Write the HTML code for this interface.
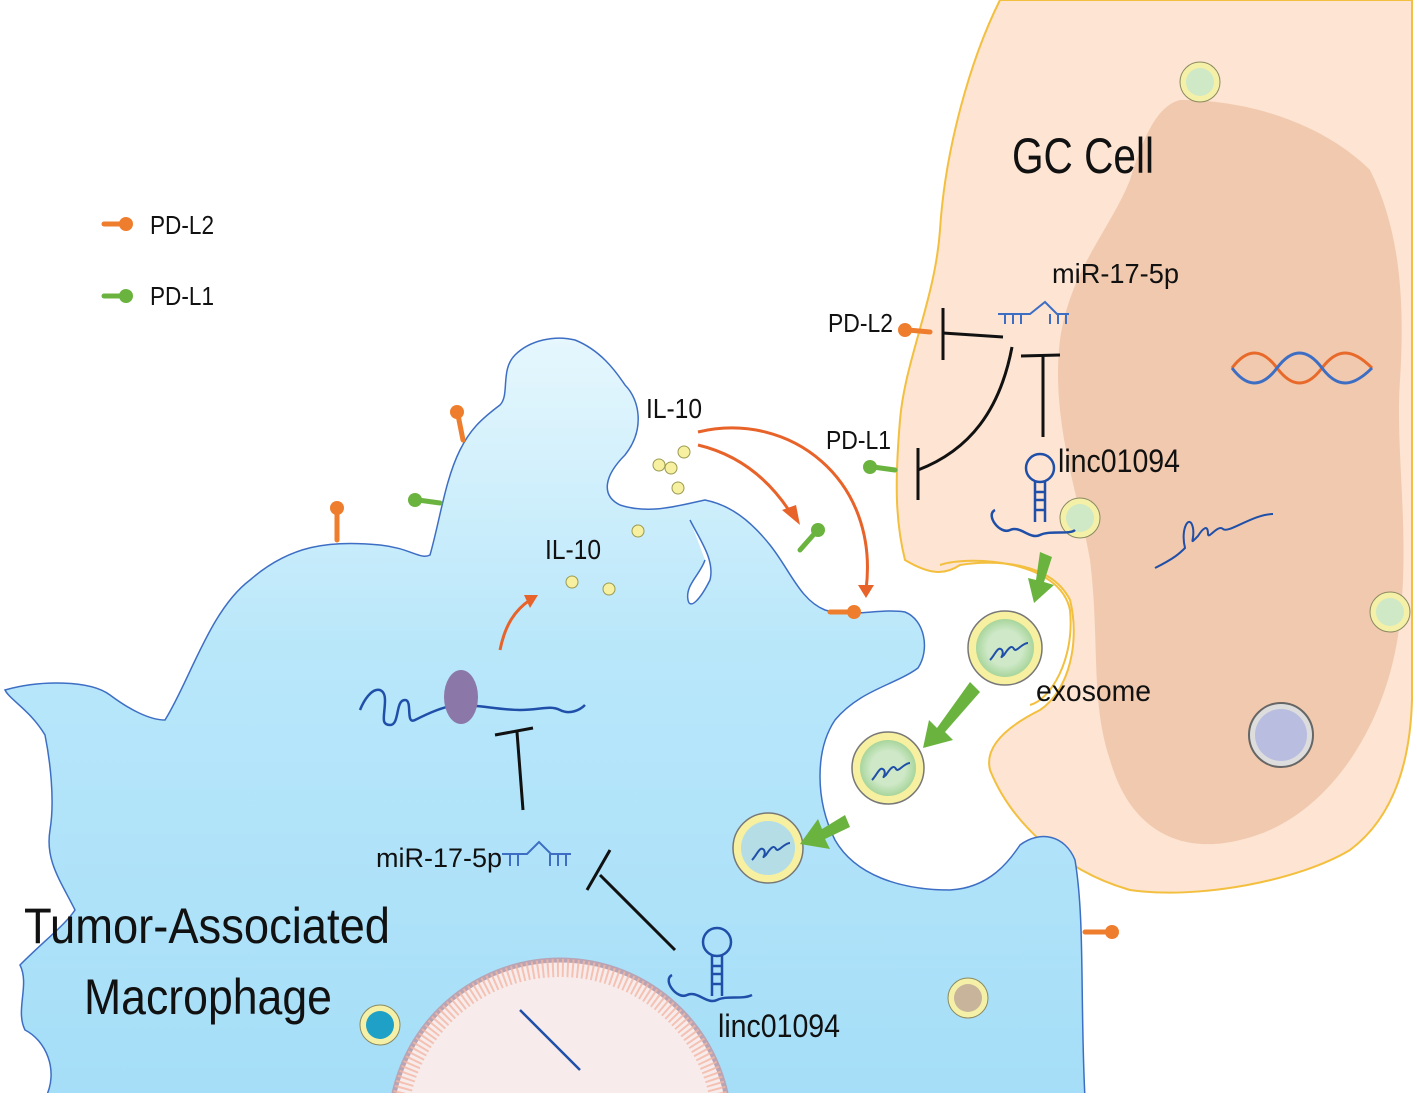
<!DOCTYPE html>
<html><head><meta charset="utf-8"><style>
html,body{margin:0;padding:0;background:#fff;overflow:hidden;width:1417px;height:1099px;}
svg{display:block;}
text{font-family:"Liberation Sans",sans-serif;fill:#111;}
</style></head><body>
<svg width="1417" height="1099" viewBox="0 0 1417 1099" xmlns="http://www.w3.org/2000/svg">
<defs>
<linearGradient id="mb" x1="0" y1="0" x2="0" y2="1">
<stop offset="0" stop-color="#e6f7fd"/><stop offset="0.4" stop-color="#b9e7fa"/><stop offset="1" stop-color="#a5def8"/>
</linearGradient>
<radialGradient id="ex" cx="0.5" cy="0.5" r="0.5">
<stop offset="0.6" stop-color="#cfe9c8"/><stop offset="1" stop-color="#a8d59c"/>
</radialGradient>
</defs>
<!-- GC cell -->
<path d="M1000,0 C970,60 945,150 940,230 C935,300 905,360 900,420 C895,480 895,520 905,560 C930,575 945,575 960,565 C990,560 1050,560 1070,600 C1080,640 1070,690 1040,710 C1000,730 985,750 990,770 C1010,820 1060,870 1130,890 C1200,900 1300,880 1350,850 C1390,820 1410,770 1412,700 L1412,0 Z" fill="#fde4d3" stroke="#f3bf3f" stroke-width="2"/>
<!-- nucleus -->
<path d="M1180,100 C1260,100 1330,130 1370,170 C1400,230 1405,300 1400,380 C1395,450 1410,530 1400,620 C1390,720 1330,820 1240,840 C1180,855 1130,830 1110,760 C1090,700 1100,640 1090,560 C1080,500 1050,420 1060,340 C1070,270 1110,230 1130,180 C1145,130 1160,105 1180,100 Z" fill="#f1c9ae"/>
<!-- Macrophage -->
<path d="M5,690 C40,680 90,680 110,695 C130,710 150,720 165,720 C190,680 210,610 250,580 C290,545 330,540 380,545 C410,548 420,560 430,555 C440,520 445,480 460,450 C470,430 480,420 500,405 C510,395 500,370 515,355 C530,340 555,335 575,340 C600,350 615,370 625,385 C640,400 645,430 625,455 C605,475 600,495 620,505 C650,515 680,505 705,500 C730,505 750,520 770,545 C790,570 800,600 825,610 C850,618 880,608 905,612 C925,620 930,650 918,668 C895,685 860,690 835,720 C815,750 815,800 835,840 C855,875 900,890 950,890 C990,888 1010,860 1020,845 C1040,830 1065,835 1075,860 C1085,920 1080,1000 1085,1099 L45,1099 C60,1070 45,1040 25,1030 C15,1010 30,985 20,965 C45,940 65,925 75,910 C60,880 45,860 50,830 C55,800 50,760 45,735 C30,710 10,700 5,690 Z" fill="url(#mb)" stroke="#3d6ec4" stroke-width="1.5"/>
<path d="M690,520 C700,540 715,560 710,580 C700,600 690,610 688,600 C685,585 700,575 705,560" fill="#fff" stroke="#3d6ec4" stroke-width="1.5"/>
<path d="M940,565 C970,555 1060,560 1070,610 C1075,660 1050,700 1030,705" fill="none" stroke="#f3bf3f" stroke-width="2"/>
<clipPath id="cl"><rect x="0" y="0" width="1417" height="1093"/></clipPath>
<g clip-path="url(#cl)">
<circle cx="560" cy="1130" r="170" fill="#f7ebeb" stroke="#b8a4b4" stroke-width="5"/>
<circle cx="560" cy="1130" r="162" fill="none" stroke="#f2b6a4" stroke-width="18" stroke-dasharray="2 3" opacity="0.8"/>
</g>
<rect x="0" y="1093" width="1417" height="6" fill="#fff"/>
<path d="M520,1010 C540,1030 560,1050 580,1070" stroke="#1f4fa8" stroke-width="2.5" fill="none"/>
<circle cx="1200" cy="82" r="20" fill="#f5f0a8" stroke="#8a8a60"/><circle cx="1200" cy="82" r="14" fill="#cfe8c6"/>
<circle cx="1390" cy="612" r="20" fill="#f5f0a8" stroke="#8a8a60"/><circle cx="1390" cy="612" r="14" fill="#cfe8c6"/>
<circle cx="1080" cy="518" r="20" fill="#f5f0a8" stroke="#8a8a60"/><circle cx="1080" cy="518" r="14" fill="#cfe8c6"/>
<circle cx="1281" cy="735" r="32" fill="#ddd" stroke="#666" stroke-width="2"/><circle cx="1281" cy="735" r="26" fill="#b9bde0"/>
<circle cx="968" cy="998" r="20" fill="#f5f0a8" stroke="#8a8a60"/><circle cx="968" cy="998" r="14" fill="#c8b49a"/>
<circle cx="380" cy="1025" r="20" fill="#f5f0a8" stroke="#8a8a60"/><circle cx="380" cy="1025" r="14" fill="#1fa1c7"/>
<circle cx="1005" cy="648" r="37" fill="#f6f0a0" stroke="#777" stroke-width="1.5"/><circle cx="1005" cy="648" r="29" fill="url(#ex)"/>
<circle cx="888" cy="768" r="36" fill="#f6f0a0" stroke="#777" stroke-width="1.5"/><circle cx="888" cy="768" r="28" fill="url(#ex)"/>
<circle cx="768" cy="848" r="35" fill="#f6f0a0" stroke="#777" stroke-width="1.5"/><circle cx="768" cy="848" r="27" fill="#b4dde6"/>
<g stroke="#1f4fa8" stroke-width="2" fill="none">
<path d="M990,660 c5,-5 8,-15 12,-10 c3,5 -4,10 2,5 c5,-8 8,-10 10,-6 c2,4 8,-6 14,-6"/>
<path d="M872,780 c5,-5 8,-15 12,-10 c3,5 -4,10 2,5 c5,-8 8,-10 10,-6 c2,4 8,-6 14,-6"/>
<path d="M752,860 c5,-5 8,-15 12,-10 c3,5 -4,10 2,5 c5,-8 8,-10 10,-6 c2,4 8,-6 14,-6"/>
<path d="M1155,568 c20,-10 25,-15 30,-20 c-5,-20 5,-35 8,-20 c2,12 -5,18 5,8 c5,-8 10,-12 10,-2 c0,6 10,-10 15,-5 c5,5 30,-15 50,-15"/>
<path d="M360,710 c10,-25 25,-25 25,-10 c0,15 -5,25 5,25 c10,0 5,-25 15,-25 c8,0 0,25 10,20 c10,-5 30,-15 45,-15 c20,0 40,5 60,5 c20,0 30,-5 40,0 c10,5 20,0 25,-5" stroke-width="2.5"/>
<circle cx="1040" cy="468" r="14" stroke-width="2.5"/>
<path d="M1035,482 l0,40 M1045,482 l0,40 M1035,492 h10 M1035,500 h10 M1035,510 h10" stroke-width="2.5"/>
<path d="M995,510 c-10,5 5,25 15,20 c10,-5 20,10 30,5 c10,-5 30,0 35,-5" stroke-width="2.5"/>
<circle cx="717" cy="942" r="14" stroke-width="2.5"/>
<path d="M712,956 l0,40 M722,956 l0,40 M712,966 h10 M712,974 h10 M712,984 h10" stroke-width="2.5"/>
<path d="M672,975 c-10,5 5,25 15,20 c10,-5 20,10 30,5 c10,-5 25,0 35,-5" stroke-width="2.5"/>
</g>
<ellipse cx="461" cy="697" rx="17" ry="27" fill="#8b78a8"/>
<g stroke="#3d6ec4" stroke-width="2" fill="none">
<path d="M998,314 h32 l15,-12 l12,12 h12 M1005,314 v10 M1013,314 v10 M1021,314 v10 M1050,314 v10 M1058,314 v10 M1066,314 v10"/>
<path d="M502,854 h25 l12,-12 l12,12 h20 M510,854 v12 M518,854 v12 M550,854 v12 M558,854 v12 M566,854 v12"/>
</g>
<g stroke="#e86a2b" stroke-width="3" fill="none">
<path d="M1232,368 c15,-20 30,-20 45,0 c15,20 30,20 45,0 c15,-20 30,-20 50,0"/>
<path d="M1232,368 c15,20 30,20 45,0 c15,-20 30,-20 45,0 c15,20 30,20 50,0" stroke="#3d6ec4"/>
</g>
<g stroke-width="5" stroke-linecap="round">
<line x1="104" y1="224" x2="124" y2="224" stroke="#ef7d2e"/><circle cx="126" cy="224" r="7" fill="#ef7d2e"/>
<line x1="104" y1="296" x2="124" y2="296" stroke="#6bb33f"/><circle cx="126" cy="296" r="7" fill="#6bb33f"/>
<line x1="930" y1="332" x2="908" y2="330" stroke="#ef7d2e"/><circle cx="905" cy="330" r="7" fill="#ef7d2e"/>
<line x1="895" y1="470" x2="873" y2="467" stroke="#6bb33f"/><circle cx="870" cy="467" r="7" fill="#6bb33f"/>
<line x1="463" y1="440" x2="458" y2="415" stroke="#ef7d2e"/><circle cx="457" cy="412" r="7" fill="#ef7d2e"/>
<line x1="440" y1="503" x2="418" y2="500" stroke="#6bb33f"/><circle cx="415" cy="500" r="7" fill="#6bb33f"/>
<line x1="337" y1="540" x2="337" y2="512" stroke="#ef7d2e"/><circle cx="337" cy="508" r="7" fill="#ef7d2e"/>
<line x1="800" y1="550" x2="815" y2="533" stroke="#6bb33f"/><circle cx="818" cy="530" r="7" fill="#6bb33f"/>
<line x1="830" y1="612" x2="850" y2="612" stroke="#ef7d2e"/><circle cx="854" cy="612" r="7" fill="#ef7d2e"/>
<line x1="1085" y1="932" x2="1108" y2="932" stroke="#ef7d2e"/><circle cx="1112" cy="932" r="7" fill="#ef7d2e"/>
</g>
<g fill="#f6f0a0" stroke="#9a9a50" stroke-width="1">
<circle cx="659" cy="465" r="6"/><circle cx="671" cy="468" r="6"/><circle cx="684" cy="452" r="6"/><circle cx="678" cy="488" r="6"/><circle cx="638" cy="531" r="6"/><circle cx="572" cy="582" r="6"/><circle cx="609" cy="589" r="6"/>
</g>
<g stroke="#e8632a" stroke-width="3" fill="none">
<path d="M698,432 C790,410 880,480 866,590"/>
<path d="M698,445 C740,455 770,480 792,515"/>
<path d="M500,650 C505,625 515,610 530,600"/>
</g>
<g fill="#e8632a">
<path d="M858,585 L866,598 L874,585 Z"/><path d="M782,510 L800,525 L796,505 Z"/><path d="M524,595 L538,595 L530,608 Z"/>
</g>
<g stroke="#111" stroke-width="3" fill="none">
<line x1="943" y1="333" x2="1003" y2="337"/><line x1="943" y1="308" x2="943" y2="360"/>
<path d="M1012,347 C1000,410 970,450 918,470"/><line x1="918" y1="448" x2="918" y2="500"/>
<line x1="1043" y1="437" x2="1043" y2="356"/><line x1="1021" y1="356" x2="1060" y2="355"/>
<line x1="523" y1="810" x2="517" y2="732"/><line x1="495" y1="735" x2="533" y2="728"/>
<line x1="675" y1="950" x2="600" y2="875"/><line x1="587" y1="890" x2="610" y2="850"/>
</g>
<g fill="#6bb33f">
<path d="M1040,552 l12,5 l-8,25 l10,3 l-20,18 l-6,-25 l8,2 Z"/>
<path d="M970,682 l10,10 l-35,40 l8,8 l-30,8 l6,-28 l8,8 Z"/>
<path d="M845,815 l5,12 l-25,12 l5,10 l-30,-5 l18,-25 l4,10 Z"/>
</g>
<g>
<text x="150" y="234" font-size="26" textLength="64" lengthAdjust="spacingAndGlyphs">PD-L2</text>
<text x="150" y="305" font-size="26" textLength="64" lengthAdjust="spacingAndGlyphs">PD-L1</text>
<text x="1012" y="173" font-size="50" textLength="142" lengthAdjust="spacingAndGlyphs">GC Cell</text>
<text x="1052" y="283" font-size="28" textLength="127" lengthAdjust="spacingAndGlyphs">miR-17-5p</text>
<text x="828" y="332" font-size="26" textLength="65" lengthAdjust="spacingAndGlyphs">PD-L2</text>
<text x="826" y="449" font-size="26" textLength="65" lengthAdjust="spacingAndGlyphs">PD-L1</text>
<text x="1058" y="472" font-size="32" textLength="122" lengthAdjust="spacingAndGlyphs">linc01094</text>
<text x="646" y="418" font-size="28" textLength="56" lengthAdjust="spacingAndGlyphs">IL-10</text>
<text x="545" y="559" font-size="28" textLength="56" lengthAdjust="spacingAndGlyphs">IL-10</text>
<text x="1036" y="701" font-size="30" textLength="115" lengthAdjust="spacingAndGlyphs">exosome</text>
<text x="376" y="867" font-size="27" textLength="126" lengthAdjust="spacingAndGlyphs">miR-17-5p</text>
<text x="718" y="1037" font-size="32" textLength="122" lengthAdjust="spacingAndGlyphs">linc01094</text>
<text x="24" y="943" font-size="50" textLength="366" lengthAdjust="spacingAndGlyphs">Tumor-Associated</text>
<text x="84" y="1014" font-size="50" textLength="248" lengthAdjust="spacingAndGlyphs">Macrophage</text>
</g>
</svg>
</body></html>
